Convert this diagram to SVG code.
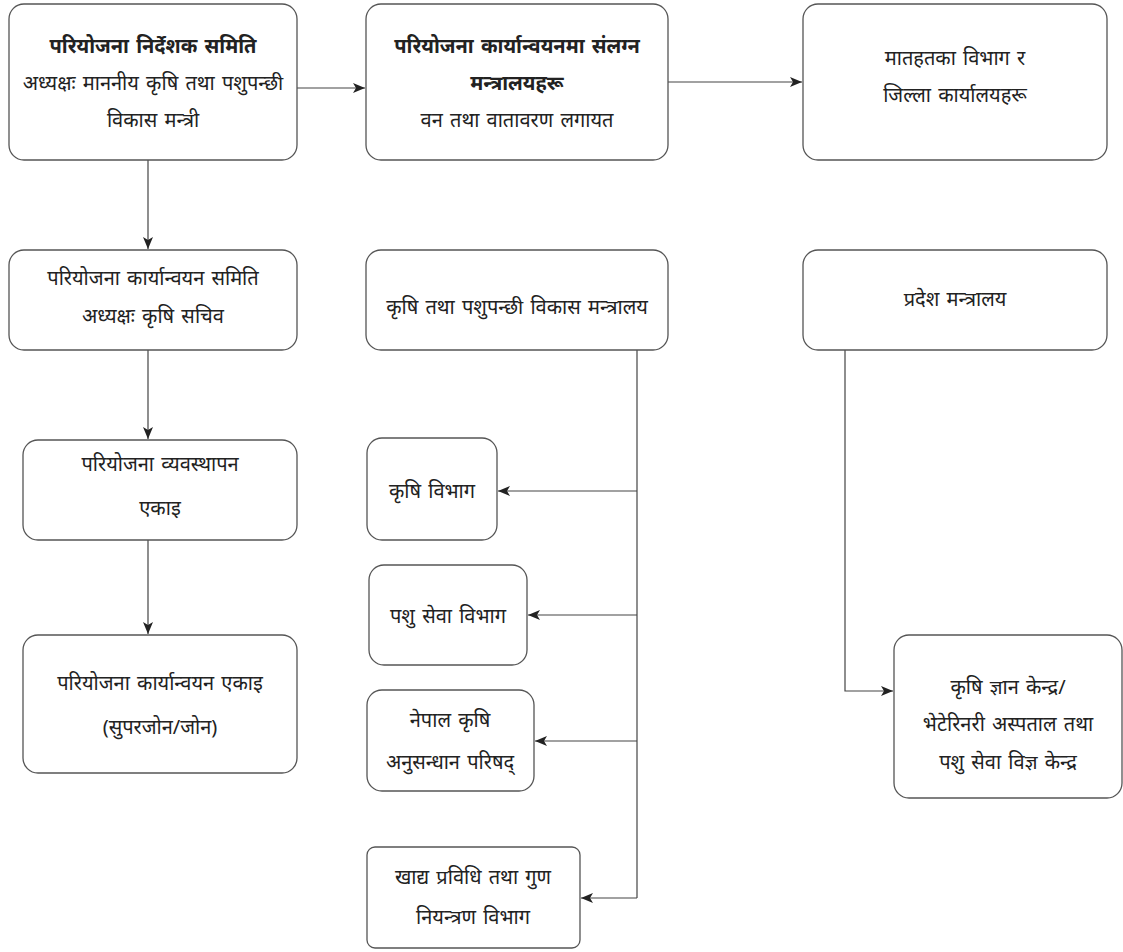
<svg xmlns="http://www.w3.org/2000/svg" width="1123" height="952" viewBox="0 0 1123 952">
<style>
.box{fill:#fff;stroke:#555;stroke-width:1.3}
.t{font-family:"Noto Sans","Noto Sans Devanagari","DejaVu Sans",sans-serif;font-size:20px;word-spacing:2px;fill:#222;text-anchor:middle}
.b{font-weight:bold}
.c{fill:none;stroke:#444;stroke-width:1.2}
</style>
<defs>
<marker id="ah" viewBox="0 0 12 10" refX="12" refY="5" markerWidth="12" markerHeight="10" markerUnits="userSpaceOnUse" orient="auto">
<path d="M0,0 L12,5 L0,10 L3,5 Z" fill="#222"/>
</marker>
</defs>
<rect width="1123" height="952" fill="#fff"/>
<g id="connectors">
<path class="c" d="M297,88 H365" marker-end="url(#ah)"/>
<path class="c" d="M668,82 H802" marker-end="url(#ah)"/>
<path class="c" d="M148,160 V249" marker-end="url(#ah)"/>
<path class="c" d="M148,350 V439" marker-end="url(#ah)"/>
<path class="c" d="M148,540 V634" marker-end="url(#ah)"/>
<path class="c" d="M637,350 V898"/>
<path class="c" d="M637,491 H498" marker-end="url(#ah)"/>
<path class="c" d="M637,615 H528" marker-end="url(#ah)"/>
<path class="c" d="M637,741 H535" marker-end="url(#ah)"/>
<path class="c" d="M637,898 H581" marker-end="url(#ah)"/>
<path class="c" d="M845,350 V691 H893" marker-end="url(#ah)"/>
</g>
<g id="n1"><rect class="box" x="9" y="4" width="288" height="156" rx="15"/>
<text class="t b" x="153" y="53">परियोजना निर्देशक समिति</text>
<text class="t" x="153" y="90">अध्यक्षः माननीय कृषि तथा पशुपन्छी</text>
<text class="t" x="153" y="127">विकास मन्त्री</text></g>
<g id="n2"><rect class="box" x="366" y="4" width="302" height="156" rx="15"/>
<text class="t b" x="517" y="53">परियोजना कार्यान्वयनमा संलग्न</text>
<text class="t b" x="517" y="90">मन्त्रालयहरू</text>
<text class="t" x="517" y="127">वन तथा वातावरण लगायत</text></g>
<g id="n3"><rect class="box" x="803" y="4" width="304" height="156" rx="15"/>
<text class="t" x="955" y="65">मातहतका विभाग र</text>
<text class="t" x="955" y="102">जिल्ला कार्यालयहरू</text></g>
<g id="n4"><rect class="box" x="9" y="250" width="288" height="100" rx="15"/>
<text class="t" x="153" y="285">परियोजना कार्यान्वयन समिति</text>
<text class="t" x="153" y="323">अध्यक्षः कृषि सचिव</text></g>
<g id="n5"><rect class="box" x="366" y="250" width="302" height="100" rx="15"/>
<text class="t" x="517" y="314">कृषि तथा पशुपन्छी विकास मन्त्रालय</text></g>
<g id="n6"><rect class="box" x="803" y="250" width="304" height="100" rx="15"/>
<text class="t" x="955" y="306">प्रदेश मन्त्रालय</text></g>
<g id="n7"><rect class="box" x="23" y="440" width="274" height="100" rx="15"/>
<text class="t" x="160" y="471">परियोजना व्यवस्थापन</text>
<text class="t" x="160" y="515">एकाइ</text></g>
<g id="n8"><rect class="box" x="23" y="635" width="274" height="138" rx="15"/>
<text class="t" x="160" y="690">परियोजना कार्यान्वयन एकाइ</text>
<text class="t" x="160" y="734">(सुपरजोन/जोन)</text></g>
<g id="n9"><rect class="box" x="367" y="438" width="130" height="102" rx="15"/>
<text class="t" x="432" y="498">कृषि विभाग</text></g>
<g id="n10"><rect class="box" x="369" y="565" width="158" height="100" rx="15"/>
<text class="t" x="448" y="623">पशु सेवा विभाग</text></g>
<g id="n11"><rect class="box" x="367" y="690" width="167" height="101" rx="15"/>
<text class="t" x="450" y="727">नेपाल कृषि</text>
<text class="t" x="450" y="769">अनुसन्धान परिषद्</text></g>
<g id="n12"><rect class="box" x="367" y="847" width="213" height="101" rx="8"/>
<text class="t" x="473" y="884">खाद्य प्रविधि तथा गुण</text>
<text class="t" x="473" y="924">नियन्त्रण विभाग</text></g>
<g id="n13"><rect class="box" x="894" y="635" width="228" height="163" rx="15"/>
<text class="t" x="1008" y="694">कृषि ज्ञान केन्द्र/</text>
<text class="t" x="1008" y="731">भेटेरिनरी अस्पताल तथा</text>
<text class="t" x="1008" y="769">पशु सेवा विज्ञ केन्द्र</text></g>
</svg>
